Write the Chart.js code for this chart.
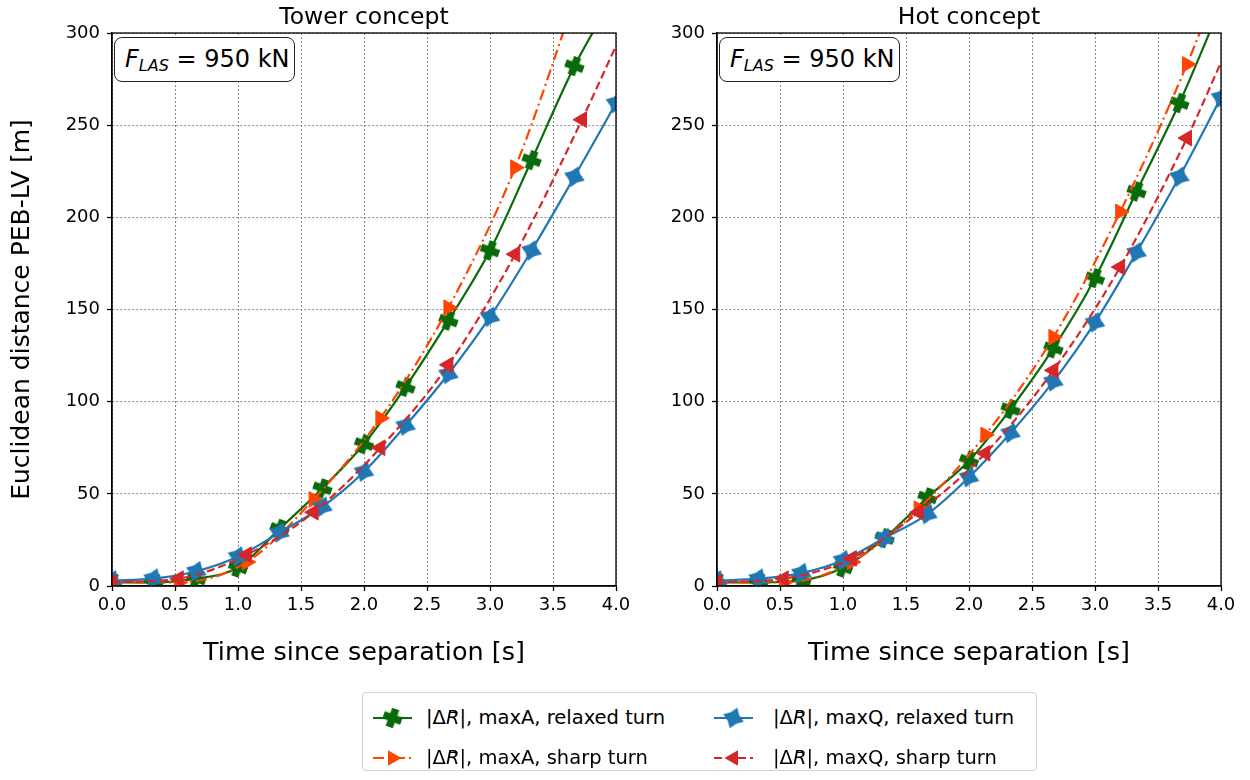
<!DOCTYPE html>
<html>
<head>
<meta charset="utf-8">
<script src="https://cdn.jsdelivr.net/npm/chart.js@4.4.1/dist/chart.umd.min.js"></script>
<style>
  body { margin: 0; background: #fff; font-family: "DejaVu Sans", sans-serif; }
  #page { position: relative; width: 1250px; height: 780px; overflow: hidden; }
  canvas.plot { position: absolute; top: 0; }
  #cTower { left: 0; }
  #cHot { left: 640px; }
  .flas {
    position: absolute; top: 37px; width: 181px; height: 45px; box-sizing: border-box;
    border: 1.5px solid #222; border-radius: 8px; background: #fff;
    font-size: 24px; line-height: 42px; padding-left: 10px; white-space: nowrap; z-index: 5;
  }
  .flas sub { font-size: 16px; vertical-align: -4px; font-style: italic; }
  #legend {
    position: absolute; left: 362px; top: 692px; width: 675px; height: 79px; box-sizing: border-box;
    border: 1px solid #d0d0d0; border-radius: 4px; background: #fff; z-index: 5;
  }
  .entry { position: absolute; height: 30px; font-size: 19.5px; line-height: 30px; white-space: nowrap; }
  .entry canvas { position: absolute; left: 0; top: 0; }
  .entry span.t { position: absolute; top: 0; }
  .v { position: relative; font-style: italic; }
  .v::before { content: "\2192"; position: absolute; left: 0.24em; top: -0.78em; font-size: 0.55em; font-style: normal; }
</style>
</head>
<body>
<div id="page">
  <canvas id="cTower" class="plot" width="660" height="680"></canvas>
  <canvas id="cHot" class="plot" width="610" height="680"></canvas>
  <div class="flas" style="left:114px"><i>F</i><sub>LAS</sub> = 950 kN</div>
  <div class="flas" style="left:719px"><i>F</i><sub>LAS</sub> = 950 kN</div>
  <div id="legend"></div>
</div>
<script>
// time stamps of the samples (s)
const timeRelaxed = [0, 0.33, 0.67, 1.0, 1.33, 1.67, 2.0, 2.33, 2.67, 3.0, 3.33, 3.67, 4.0];
const timeSharp = [0, 0.53, 1.07, 1.6, 2.13, 2.67, 3.2, 3.73, 4.0];

// Tower concept (m)
const towerMaxARelaxed = [2, 2, 4, 10, 31, 53, 77, 108, 144, 182, 231, 282, 322];
const towerMaxASharp   = [2, 2, 13, 47, 91, 151, 227, 330];
const towerMaxQRelaxed = [3, 4, 8, 16, 29, 43, 62, 87, 115, 146, 182, 222, 262];
const towerMaxQSharp   = [2, 4, 17, 40, 75, 120, 180, 253, 293];

// Hot concept (m)
const hotMaxARelaxed = [2, 2, 3, 10, 26, 48, 68, 96, 129, 167, 214, 262, 315];
const hotMaxASharp   = [2, 2, 13, 42, 82, 135, 203, 283, 330];
const hotMaxQRelaxed = [3, 4, 7, 14, 26, 39, 59, 83, 111, 143, 181, 222, 265];
const hotMaxQSharp   = [2, 4, 15, 40, 72, 117, 173, 243, 284];

const sharpMarkerCount = 8;   // last sharp-turn sample carries no marker

const xTickLabels = ['0.0', '0.5', '1.0', '1.5', '2.0', '2.5', '3.0', '3.5', '4.0'];
const yTickLabels = ['0', '50', '100', '150', '200', '250', '300'];

const legendLabels = ['maxA, relaxed turn', 'maxA, sharp turn', 'maxQ, relaxed turn', 'maxQ, sharp turn'];

const GREEN = '#0a6b0a', ORANGE = '#ff4500', BLUE = '#1f77b4', RED = '#d62728';
const FONT = '"DejaVu Sans", sans-serif';

// marker images
function plusMarker(color, size) {
  const c = document.createElement('canvas');
  c.width = c.height = size;
  const g = c.getContext('2d');
  const a = size / 2, w = size * 0.2;
  g.fillStyle = color;
  g.fillRect(a - w, 0, 2 * w, size);
  g.fillRect(0, a - w, size, 2 * w);
  return c;
}
function starMarker(color, size) {
  const c = document.createElement('canvas');
  c.width = c.height = size;
  const g = c.getContext('2d');
  const a = size / 2;
  g.fillStyle = color;
  g.beginPath();
  for (let k = 0; k < 8; k++) {
    const ang = (-90 + k * 45) * Math.PI / 180;
    const r = k % 2 ? a * 0.58 : a;
    const px = a + r * Math.cos(ang), py = a + r * Math.sin(ang);
    k ? g.lineTo(px, py) : g.moveTo(px, py);
  }
  g.closePath();
  g.fill();
  return c;
}
const plusImg = plusMarker(GREEN, 19);
const starImg = starMarker(BLUE, 22);

function pts(times, vals) {
  return vals.map((v, i) => ({ x: times[i], y: v }));
}

function datasets(aRel, aSharp, qRel, qSharp) {
  const common = { showLine: true, borderWidth: 2.2, cubicInterpolationMode: 'monotone', clip: 0, pointHitRadius: 0 };
  return [
    { ...common, label: legendLabels[0], data: pts(timeRelaxed, aRel), borderColor: GREEN, backgroundColor: GREEN,
      pointStyle: plusImg, pointRadius: 9, pointRotation: 20, order: 4 },
    { ...common, label: legendLabels[1], data: pts(timeSharp, aSharp), borderColor: ORANGE, backgroundColor: ORANGE,
      borderDash: [11, 4, 2, 4], pointStyle: 'triangle', pointRotation: 90, pointBorderWidth: 1,
      pointRadius: c => c.dataIndex < sharpMarkerCount ? 9 : 0, order: 3 },
    { ...common, label: legendLabels[2], data: pts(timeRelaxed, qRel), borderColor: BLUE, backgroundColor: BLUE,
      pointStyle: starImg, pointRadius: 9, pointRotation: 20, order: 2 },
    { ...common, label: legendLabels[3], data: pts(timeSharp, qSharp), borderColor: RED, backgroundColor: RED,
      borderDash: [8, 4], pointStyle: 'triangle', pointRotation: -90, pointBorderWidth: 1,
      pointRadius: c => c.dataIndex < sharpMarkerCount ? 9 : 0, order: 1 }
  ];
}

// box round the plot area
const framePlugin = {
  id: 'frame',
  afterDraw(chart) {
    const { ctx, chartArea: a } = chart;
    ctx.save();
    ctx.strokeStyle = '#000';
    ctx.lineWidth = 1.3;
    ctx.strokeRect(a.left, a.top, a.right - a.left, a.bottom - a.top);
    ctx.restore();
  }
};

// title centred over the plot area (not the whole canvas)
const areaTitlePlugin = {
  id: 'areaTitle',
  afterDraw(chart, args, opts) {
    const { ctx, chartArea: a } = chart;
    ctx.save();
    ctx.font = '23.5px ' + FONT;
    ctx.fillStyle = '#000';
    ctx.textAlign = 'center';
    ctx.textBaseline = 'middle';
    ctx.fillText(opts.text, (a.left + a.right) / 2, 18);
    ctx.restore();
  }
};

function makeChart(id, title, yAxisWidth, rightPad, withYTitle, sets) {
  const tickFont = { family: FONT, size: 18 };
  const grid = { color: '#8a8a8a', lineWidth: 1, tickLength: 5, tickColor: '#000', tickWidth: 1.3, tickBorderDash: [] };
  const border = { display: true, color: '#000', width: 1.3, dash: [2, 2] };
  return new Chart(document.getElementById(id), {
    type: 'scatter',
    data: { datasets: sets },
    plugins: [framePlugin, areaTitlePlugin],
    options: {
      responsive: false,
      animation: false,
      events: [],
      layout: { padding: { left: 0, right: rightPad, top: 33, bottom: 0 } },
      plugins: {
        legend: { display: false },
        tooltip: { enabled: false },
        title: { display: false },
        areaTitle: { text: title }
      },
      scales: {
        x: {
          type: 'linear', min: 0, max: 4,
          afterFit: s => { s.height = 94; },
          ticks: { stepSize: 0.5, color: '#000', font: tickFont, padding: 4, maxRotation: 0,
                   callback: (v, i) => xTickLabels[i] },
          grid, border,
          title: { display: true, text: 'Time since separation [s]', color: '#000',
                   font: { family: FONT, size: 25.5 }, padding: { top: 0, bottom: 11 } }
        },
        y: {
          min: 0, max: 300,
          afterFit: s => { s.width = yAxisWidth; },
          ticks: { stepSize: 50, color: '#000', font: tickFont, padding: 7,
                   callback: (v, i) => yTickLabels[i] },
          grid, border,
          title: { display: withYTitle, text: 'Euclidean distance PEB-LV [m]', color: '#000',
                   font: { family: FONT, size: 25 }, padding: { top: 7, bottom: 0 } }
        }
      }
    }
  });
}

makeChart('cTower', 'Tower concept', 112, 44, true,
  datasets(towerMaxARelaxed, towerMaxASharp, towerMaxQRelaxed, towerMaxQSharp));
makeChart('cHot', 'Hot concept', 77, 29, false,
  datasets(hotMaxARelaxed, hotMaxASharp, hotMaxQRelaxed, hotMaxQSharp));

// legend (HTML text, small canvases for the line samples)
const legendItems = [
  { label: legendLabels[0], color: GREEN, dash: [], marker: 'plus', left: 8, top: 10, text: 55 },
  { label: legendLabels[1], color: ORANGE, dash: [11, 4, 2, 4], marker: 'right', left: 8, top: 50, text: 55 },
  { label: legendLabels[2], color: BLUE, dash: [], marker: 'star', left: 349, top: 10, text: 61 },
  { label: legendLabels[3], color: RED, dash: [8, 4], marker: 'left', left: 349, top: 50, text: 61 }
];
const legendEl = document.getElementById('legend');
legendItems.forEach(it => {
  const div = document.createElement('div');
  div.className = 'entry';
  div.style.left = it.left + 'px';
  div.style.top = it.top + 'px';
  const cv = document.createElement('canvas');
  cv.width = 44; cv.height = 30;
  const g = cv.getContext('2d');
  g.strokeStyle = it.color; g.lineWidth = 2.2; g.setLineDash(it.dash);
  g.beginPath(); g.moveTo(2, 15); g.lineTo(41, 15); g.stroke();
  g.setLineDash([]);
  g.fillStyle = it.color;
  if (it.marker === 'plus' || it.marker === 'star') {
    const img = it.marker === 'plus' ? plusImg : starImg;
    g.save(); g.translate(21.5, 15); g.rotate(20 * Math.PI / 180);
    g.drawImage(img, -img.width / 2, -img.height / 2); g.restore();
  } else {
    const d = it.marker === 'right' ? 1 : -1;
    g.beginPath();
    g.moveTo(21.5 + d * 9, 15);
    g.lineTo(21.5 - d * 4.5, 15 - 7.8);
    g.lineTo(21.5 - d * 4.5, 15 + 7.8);
    g.closePath(); g.fill();
  }
  div.appendChild(cv);
  const t = document.createElement('span');
  t.className = 't';
  t.style.left = it.text + 'px';
  t.innerHTML = '|\u0394<span class="v">R</span>|, ' + it.label;
  div.appendChild(t);
  legendEl.appendChild(div);
});
</script>
</body>
</html>
